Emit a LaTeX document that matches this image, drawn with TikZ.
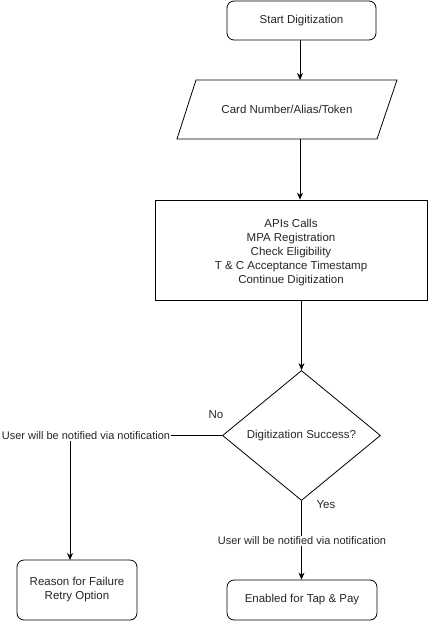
\documentclass[tikz,border=0pt]{standalone}
\usepackage{fontspec}
\setmainfont{Liberation Sans}
\usetikzlibrary{shapes.geometric,arrows.meta}
\begin{document}
\begin{tikzpicture}[x=1pt,y=-1pt,
  every node/.style={font=\fontsize{11.5}{14}\selectfont, text=black!85},
  line/.style={draw=black, line width=0.8pt},
  arr/.style={line, -{Stealth[length=7pt,width=6pt]}},
  roundbox/.style={line, rectangle, rounded corners=7pt, align=center, inner sep=0pt},
  plainbox/.style={line, rectangle, align=center, inner sep=0pt},
  decision/.style={line, diamond, inner sep=0pt, minimum width=158pt, minimum height=130pt},
  lbl/.style={fill=white, inner sep=1pt, font=\fontsize{11}{14}\selectfont}
]
\useasboundingbox (0,0) rectangle (428,621);
\node[roundbox, minimum width=149pt, minimum height=39pt] (start) at (301.5,20.5) {Start Digitization};
% parallelogram
\node[inner sep=0pt, minimum width=200pt, minimum height=59pt] (card) at (287,109.5) {Card Number/Alias/Token};
\draw[line] (196,80) -- (397,80) -- (377,139) -- (177,139) -- cycle;
\node[plainbox, minimum width=272pt, minimum height=100pt] (api) at (291,250) {};
\node[align=center, inner sep=0pt] (apitext) at (291,252.5)
  {APIs Calls\\MPA Registration\\Check Eligibility\\T \& C Acceptance Timestamp\\Continue Digitization};
\node[decision] (dec) at (301.5,435.5) {Digitization Success?};
\node[roundbox, minimum width=120pt, minimum height=60pt] (fail) at (77,590) {Reason for Failure\\Retry Option};
\node[roundbox, minimum width=150pt, minimum height=40pt] (ok) at (302,600) {Enabled for Tap \& Pay};

\coordinate (cardtop) at (300,80);
\coordinate (cardbot) at (300,139);
\draw[arr] (start.south -| cardtop) -- (cardtop);
\draw[arr] (cardbot) -- (cardbot |- api.north);
\draw[arr] (api.south -| dec.north) -- (dec.north);

\coordinate (failtop) at (70,560);
\draw[arr] (dec.west) -| (failtop);
\node[lbl] (nl) at (86,436) {User will be notified via notification};
\node (no) at (216,415) {No};

\draw[arr] (dec.south) -- (dec.south |- ok.north);
\node[lbl] (yl) at (302,541) {User will be notified via notification};
\node (yes) at (326,505) {Yes};
\end{tikzpicture}
\end{document}
